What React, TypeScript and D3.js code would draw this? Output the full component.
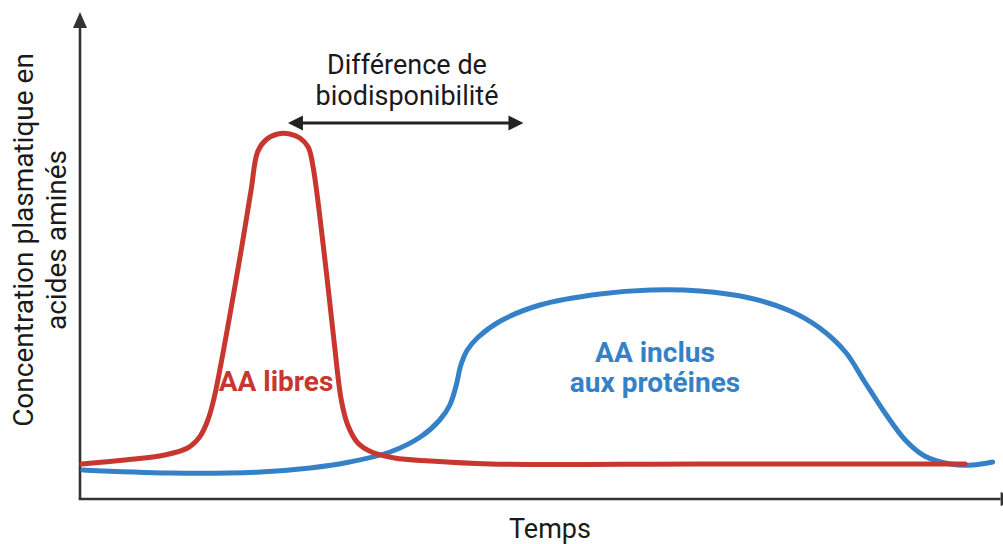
import React from "react";
import * as d3 from "d3";

// Time (arbitrary units, 0–100) and plasma amino-acid concentration (arbitrary units, 0–100)
const freeTime = [0.2, 4.9, 9.2, 11.7, 13.0, 13.9, 14.6, 17.3, 18.6, 19.3, 20.2, 21.5, 22.8, 23.9, 24.8, 25.3, 26.5, 27.6, 28.4, 29.1, 30.2, 31.7, 34.2, 38.0, 44.6, 67.4, 96.2];
const freeConc = [8.75, 9.75, 11, 12.75, 15.5, 19.75, 25.5, 59.25, 77.25, 86.75, 89.75, 91.25, 91.25, 90.25, 88, 83.5, 62.25, 39.75, 24.75, 18.5, 14, 11.75, 10.25, 9.5, 8.75, 8.75, 8.75];

const proteinTime = [0.3, 9.8, 19.6, 25.0, 29.3, 33.7, 37.0, 39.1, 40.2, 40.9, 41.4, 42.1, 43.3, 45.7, 50.0, 56.5, 62.0, 67.4, 72.8, 77.2, 80.4, 83.2, 85.3, 87.5, 89.7, 91.8, 94.6, 97.0, 99.2];
const proteinConc = [7.25, 6.5, 6.75, 7.75, 9.25, 11.75, 15.5, 19.75, 23.5, 28.5, 33.5, 37.25, 40.5, 44.5, 48.5, 51.25, 52.25, 52, 50.25, 47, 42.75, 36.75, 29.25, 21.5, 14.75, 10.75, 8.75, 8.5, 9.25];

// Bioavailability gap annotation: from the free-AA peak to the protein-AA plateau
const gapTime = [22.6, 48.2];
const gapConc = 94;

const yLabelLines = ["Concentration plasmatique en", "acides aminés"];
const xLabel = "Temps";
const gapLabelLines = ["Différence de", "biodisponibilité"];
const freeLabel = ["AA libres"];
const proteinLabel = ["AA inclus", "aux protéines"];

const W = 1003;
const H = 544;
const RED = "#C7372F";
const BLUE = "#3481C8";
const AXIS = "#333333";
const FONT = "Roboto, 'Noto Sans', sans-serif";

export default function App() {
  const x = d3.scaleLinear().domain([0, 100]).range([80, 1000]);
  const y = d3.scaleLinear().domain([0, 100]).range([499, 99]);

  const line = d3
    .line<[number, number]>()
    .x((d) => x(d[0]))
    .y((d) => y(d[1]))
    .curve(d3.curveCatmullRom.alpha(0.5));

  const freePts = freeTime.map((t, i) => [t, freeConc[i]] as [number, number]);
  const protPts = proteinTime.map((t, i) => [t, proteinConc[i]] as [number, number]);

  const x0 = x(0);
  const y0 = y(0);
  const yTop = y(121.75);
  const xEnd = x(100.5);

  const gx1 = x(gapTime[0]);
  const gx2 = x(gapTime[1]);
  const gy = y(gapConc);

  return (
    <svg
      width={W}
      height={H}
      viewBox={`0 0 ${W} ${H}`}
      style={{ position: "absolute", left: 0, top: 0, background: "#fff" }}
    >
      {/* axes with arrowheads */}
      <line x1={x0} y1={y0} x2={x0} y2={yTop + 14} stroke={AXIS} strokeWidth={2.6} />
      <path d={`M${x0},${yTop} L${x0 - 7},${yTop + 16} L${x0 + 7},${yTop + 16} Z`} fill={AXIS} />
      <line x1={x0 - 1.3} y1={y0} x2={xEnd - 4} y2={y0} stroke={AXIS} strokeWidth={2.6} />
      <path d={`M${xEnd + 12},${y0} L${xEnd - 4},${y0 - 7} L${xEnd - 4},${y0 + 7} Z`} fill={AXIS} />

      {/* curves */}
      <path d={line(protPts) ?? ""} fill="none" stroke={BLUE} strokeWidth={5} strokeLinecap="round" strokeLinejoin="round" />
      <path d={line(freePts) ?? ""} fill="none" stroke={RED} strokeWidth={5} strokeLinecap="round" strokeLinejoin="round" />

      {/* double-headed arrow */}
      <line x1={gx1 + 12} y1={gy} x2={gx2 - 12} y2={gy} stroke="#222" strokeWidth={3} />
      <path d={`M${gx1},${gy} L${gx1 + 15},${gy - 7.5} L${gx1 + 15},${gy + 7.5} Z`} fill="#222" />
      <path d={`M${gx2},${gy} L${gx2 - 15},${gy - 7.5} L${gx2 - 15},${gy + 7.5} Z`} fill="#222" />

      {/* annotation text */}
      <text x={407} y={74} textAnchor="middle" fontFamily={FONT} fontSize={27} fill="#1a1a1a">
        {gapLabelLines.map((s, i) => (
          <tspan key={i} x={407} dy={i === 0 ? 0 : 31}>{s}</tspan>
        ))}
      </text>
      <text x={276} y={391} textAnchor="middle" fontFamily={FONT} fontWeight={700} fontSize={28} fill={RED}>
        {freeLabel[0]}
      </text>
      <text x={655} y={362} textAnchor="middle" fontFamily={FONT} fontWeight={700} fontSize={28} fill={BLUE}>
        {proteinLabel.map((s, i) => (
          <tspan key={i} x={655} dy={i === 0 ? 0 : 30}>{s}</tspan>
        ))}
      </text>

      {/* axis titles */}
      <text transform="translate(33,240) rotate(-90)" textAnchor="middle" fontFamily={FONT} fontSize={28} fill="#1a1a1a">
        {yLabelLines.map((s, i) => (
          <tspan key={i} x={0} dy={i === 0 ? 0 : 33}>{s}</tspan>
        ))}
      </text>
      <text x={550} y={538} textAnchor="middle" fontFamily={FONT} fontSize={27} fill="#1a1a1a">
        {xLabel}
      </text>
    </svg>
  );
}
